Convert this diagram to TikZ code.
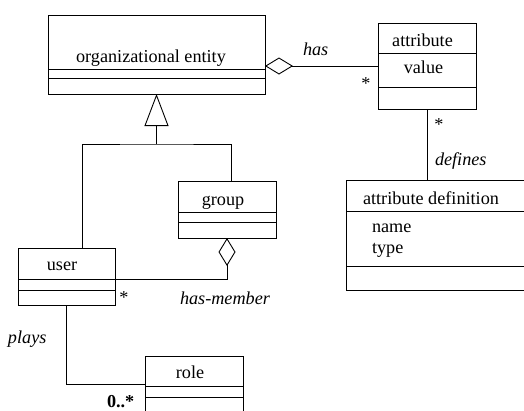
\documentclass[tikz,border=0pt]{standalone}
\usepackage{fontspec}
\setmainfont{Liberation Serif}
\newfontfamily\umlfont{Liberation Serif}
\usetikzlibrary{arrows.meta,calc}
\begin{document}
\begin{tikzpicture}[x=1pt,y=-1pt,line width=0.9pt,
  cls/.style={draw,rectangle,inner sep=0pt,outer sep=0pt},
  txt/.style={inner sep=0pt,outer sep=0pt,font=\umlfont\fontsize{18.2}{21}\selectfont},
  rel/.style={txt,font=\umlfont\fontsize{18.2}{21}\selectfont\itshape},
  mult/.style={txt},
  agg/.style={{Diamond[open,length=28pt,width=17pt]}-},
  gen/.style={-{Triangle[open,length=32pt,width=24pt]}}]
\useasboundingbox (0,0) rectangle (524,410);
\clip (0,0) rectangle (524,410);

% classes
\node[cls,minimum width=217pt,minimum height=79pt] (org) at (156.5,54.5) {};
\node[cls,minimum width=98pt,minimum height=86pt] (attr) at (427,66) {};
\node[cls,minimum width=190pt,minimum height=110pt] (adef) at (441,235) {};
\node[cls,minimum width=98pt,minimum height=57pt] (group) at (227,209.5) {};
\node[cls,minimum width=97pt,minimum height=57pt] (user) at (66.5,276.5) {};
\node[cls,minimum width=98pt,minimum height=64pt] (role) at (194,388) {};

% compartment separators
\foreach \n/\a/\b in {org/54/63, attr/30/64, adef/31/86, group/31/41, user/31/42, role/30/41}{
  \draw ([yshift=-\a pt]\n.north west) -- ([yshift=-\a pt]\n.north east);
  \draw ([yshift=-\b pt]\n.north west) -- ([yshift=-\b pt]\n.north east);
}

% class names and attributes
\node[txt,anchor=base] (torg) at (151,62) {organizational entity};
\node[txt,anchor=base] (tattr) at (422.5,46) {attribute};
\node[txt,anchor=base] (tval) at (423.5,73) {value};
\node[txt,anchor=base west] (tadef) at (363,204) {attribute definition};
\node[txt,anchor=base west] (tname) at (372,232) {name};
\node[txt,anchor=base west] (ttype) at (372,253) {type};
\node[txt,anchor=base] (tgroup) at (223,205) {group};
\node[txt,anchor=base] (tuser) at (62,270) {user};
\node[txt,anchor=base] (trole) at (190,378) {role};

% relations
\draw[agg] (org.east |- attr.west) -- (attr.west);
\draw (attr.south) -- (attr.south |- adef.north);
\coordinate (gj) at (156.5,144);
\draw ($(user.north)+(15.5,0)$) |- (gj) -| ($(group.north)+(4,0)$);
\draw[gen] (gj) -- (org.south);
\draw[agg] (group.south) |- ($(user.east)+(0,2.5)$);
\draw (user.south) |- ($(role.west)+(0,-4)$);

% association labels and multiplicities
\node[rel,anchor=base west] (lhas) at (303,55) {has};
\node[rel,anchor=base west] (ldef) at (435,165) {defines};
\node[rel,anchor=base west] (lmem) at (180,304) {has-member};
\node[rel,anchor=base west] (lplays) at (8,343) {plays};
\node[mult] (m1) at (366,84) {*};
\node[mult] (m2) at (439,125) {*};
\node[mult] (m3) at (124,298) {*};
\node[mult,font=\umlfont\fontsize{18.2}{21}\selectfont\bfseries,anchor=base west] (m4) at (107,407) {0..*};
\end{tikzpicture}
\end{document}
